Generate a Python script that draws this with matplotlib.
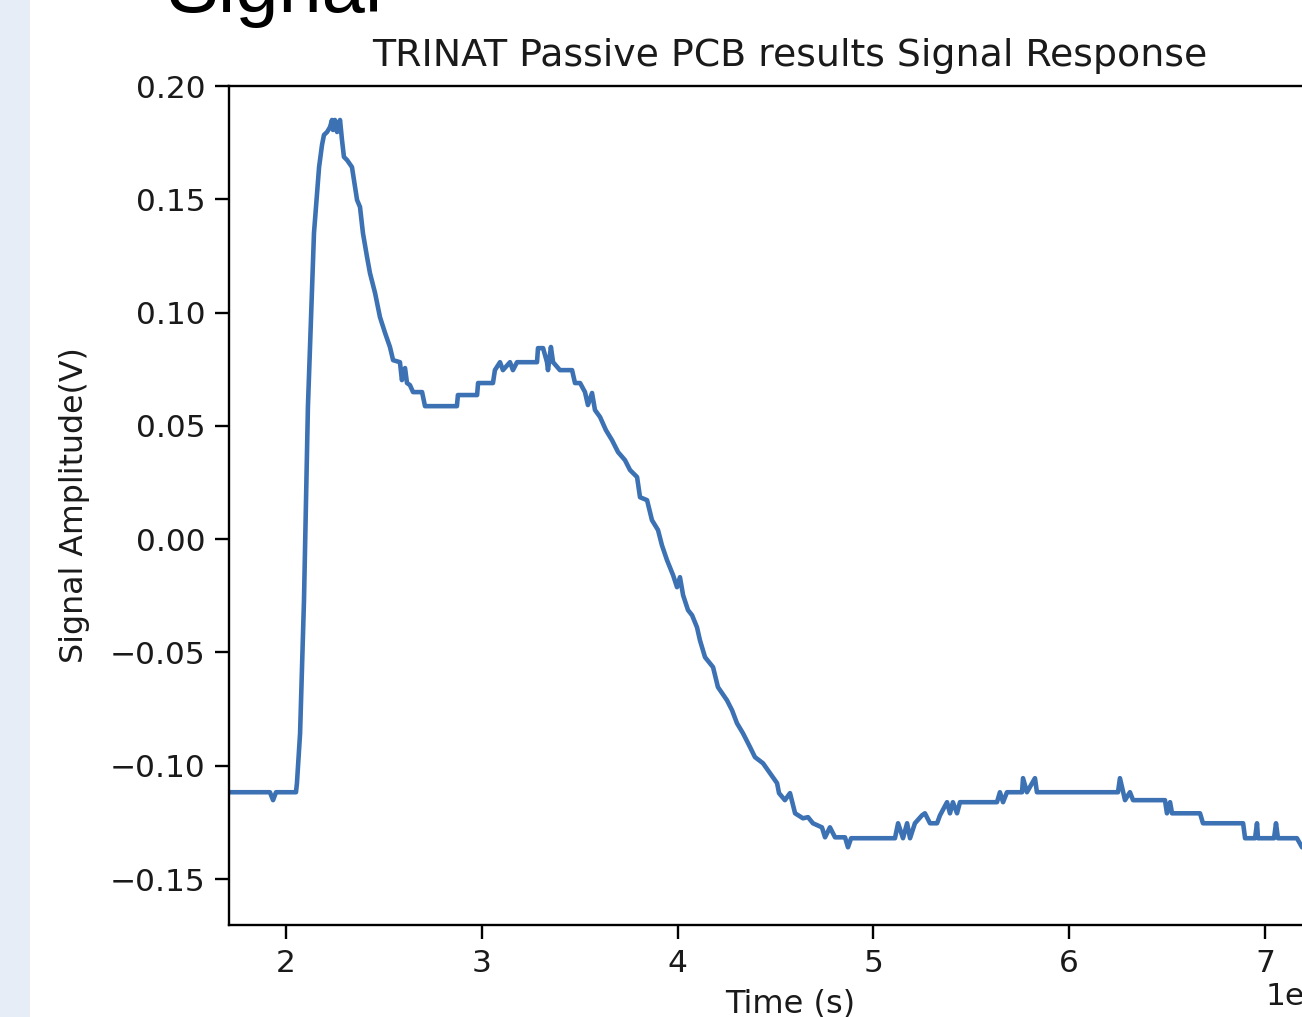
import matplotlib
matplotlib.use("Agg")
import matplotlib.pyplot as plt
from matplotlib.patches import Rectangle

# time, in units of 1e-7 s
t = [1.709, 1.918, 1.934, 1.949, 2.051, 2.056, 2.072, 2.092, 2.112, 2.143,
     2.169, 2.184, 2.194, 2.210, 2.225, 2.235, 2.240, 2.250, 2.261, 2.276,
     2.286, 2.296, 2.312, 2.337, 2.363, 2.378, 2.393, 2.414, 2.429, 2.455,
     2.480, 2.506, 2.531, 2.547, 2.582, 2.592, 2.608, 2.618, 2.633, 2.649,
     2.695, 2.710, 2.873, 2.878, 2.976, 2.981, 3.057, 3.067, 3.093, 3.108,
     3.144, 3.159, 3.180, 3.282, 3.287, 3.313, 3.333, 3.338, 3.353, 3.364,
     3.399, 3.461, 3.476, 3.502, 3.527, 3.542, 3.563, 3.578, 3.604, 3.634,
     3.665, 3.696, 3.731, 3.757, 3.793, 3.808, 3.844, 3.869, 3.900, 3.920,
     3.946, 3.977, 3.997, 4.012, 4.028, 4.053, 4.074, 4.099, 4.114, 4.140,
     4.181, 4.206, 4.252, 4.278, 4.303, 4.334, 4.370, 4.395, 4.436, 4.472,
     4.508, 4.518, 4.548, 4.574, 4.600, 4.640, 4.666, 4.691, 4.737, 4.753,
     4.778, 4.804, 4.855, 4.870, 4.886, 5.110, 5.126, 5.151, 5.172, 5.187,
     5.212, 5.248, 5.263, 5.289, 5.325, 5.340, 5.376, 5.391, 5.406, 5.427,
     5.442, 5.631, 5.646, 5.662, 5.682, 5.759, 5.764, 5.784, 5.825, 5.835,
     6.249, 6.259, 6.285, 6.310, 6.326, 6.489, 6.499, 6.515, 6.525, 6.668,
     6.683, 6.888, 6.898, 6.949, 6.959, 6.964, 7.046, 7.056, 7.066, 7.163,
     7.189, 7.281]

# signal amplitude in volts
v = [-0.1117, -0.1117, -0.1152, -0.1117, -0.1117, -0.1077, -0.0857, -0.0269, 0.0583, 0.1351,
     0.1642, 0.1740, 0.1784, 0.1797, 0.1819, 0.1850, 0.1806, 0.1850, 0.1797, 0.1850,
     0.1762, 0.1687, 0.1673, 0.1642, 0.1497, 0.1466, 0.1351, 0.1245, 0.1174, 0.1086,
     0.0980, 0.0910, 0.0848, 0.0790, 0.0781, 0.0702, 0.0755, 0.0689, 0.0680, 0.0649,
     0.0649, 0.0587, 0.0587, 0.0636, 0.0636, 0.0689, 0.0689, 0.0746, 0.0781, 0.0746,
     0.0781, 0.0746, 0.0781, 0.0781, 0.0843, 0.0843, 0.0781, 0.0746, 0.0848, 0.0781,
     0.0746, 0.0746, 0.0689, 0.0689, 0.0649, 0.0592, 0.0645, 0.0570, 0.0539, 0.0481,
     0.0437, 0.0384, 0.0349, 0.0305, 0.0274, 0.0185, 0.0172, 0.0084, 0.0040, -0.0027,
     -0.0093, -0.0159, -0.0212, -0.0168, -0.0247, -0.0313, -0.0336, -0.0389, -0.0446, -0.0521,
     -0.0565, -0.0653, -0.0711, -0.0755, -0.0812, -0.0857, -0.0918, -0.0962, -0.0989, -0.1033,
     -0.1077, -0.1121, -0.1152, -0.1121, -0.1210, -0.1232, -0.1227, -0.1254, -0.1272, -0.1316,
     -0.1272, -0.1316, -0.1316, -0.1360, -0.1320, -0.1320, -0.1254, -0.1320, -0.1254, -0.1320,
     -0.1254, -0.1219, -0.1210, -0.1254, -0.1254, -0.1219, -0.1161, -0.1210, -0.1161, -0.1210,
     -0.1161, -0.1161, -0.1117, -0.1161, -0.1117, -0.1117, -0.1055, -0.1117, -0.1055, -0.1117,
     -0.1117, -0.1055, -0.1152, -0.1117, -0.1152, -0.1152, -0.1210, -0.1161, -0.1210, -0.1210,
     -0.1254, -0.1254, -0.1320, -0.1320, -0.1254, -0.1320, -0.1320, -0.1254, -0.1320, -0.1320,
     -0.1360, -0.1370]

yticks = [-0.15, -0.10, -0.05, 0.00, 0.05, 0.10, 0.15, 0.20]

fig = plt.figure(figsize=(13.02, 10.17), dpi=100)

# pale slide margin on the left
fig.patches.append(Rectangle((0, 0), 30 / 1302, 1, transform=fig.transFigure,
                             facecolor="#e7edf6", edgecolor="none", zorder=0))

# slide heading, cut off by the top edge
fig.text(166 / 1302, 1 - 12 / 1017, "Signal", fontsize=56, family="Liberation Sans",
         ha="left", va="baseline", color="black")

ax = fig.add_axes([229 / 1302, 1 - 925 / 1017, 1122 / 1302, 839 / 1017])
ax.plot([x * 1e-7 for x in t], v, color="#3c71b3", linewidth=3.3)

ax.set_xlim(1.709e-7, 7.439e-7)
ax.set_ylim(-0.1703, 0.20)
ax.set_yticks(yticks)

ax.set_title("TRINAT Passive PCB results Signal Response", fontsize=27.3, pad=14.5,
             color="#1a1a1a")
ax.set_xlabel("Time (s)", fontsize=23, labelpad=8, color="#1a1a1a")
ax.set_ylabel("Signal Amplitude(V)", fontsize=22.8, labelpad=14, color="#1a1a1a")

ax.tick_params(labelsize=22.5, length=10, width=1.7, pad=7, labelcolor="#1a1a1a")
ax.xaxis.get_offset_text().set_fontsize(22.5)
for s in ax.spines.values():
    s.set_linewidth(1.7)

fig.savefig("out.png", dpi=100)
